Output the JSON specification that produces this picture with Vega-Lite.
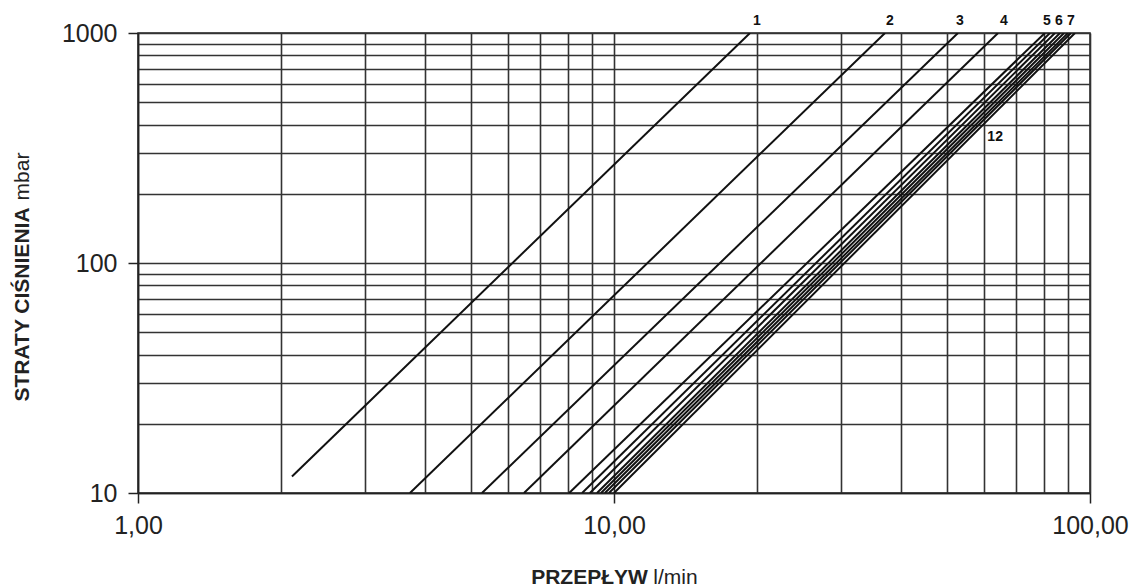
{
  "$schema": "https://vega.github.io/schema/vega-lite/v6.json",
  "width": 952,
  "height": 460,
  "autosize": {"type": "none"},
  "padding": {"left": 138, "top": 33, "right": 48, "bottom": 94},
  "background": "white",
  "config": {
    "font": "Liberation Sans",
    "view": {"stroke": "#222", "strokeWidth": 1.5}
  },
  "layer": [
    {
      "data": {
        "values": [
          {"series": "1", "flow": 2.106, "loss": 11.8},
          {"series": "1", "flow": 19.31, "loss": 1000},
          {"series": "2", "flow": 3.727, "loss": 10},
          {"series": "2", "flow": 37.1, "loss": 1000},
          {"series": "3", "flow": 5.28, "loss": 10},
          {"series": "3", "flow": 52.8, "loss": 1000},
          {"series": "4", "flow": 6.47, "loss": 10},
          {"series": "4", "flow": 64.1, "loss": 1000},
          {"series": "5", "flow": 8.05, "loss": 10},
          {"series": "5", "flow": 80.4, "loss": 1000},
          {"series": "6", "flow": 8.57, "loss": 10},
          {"series": "6", "flow": 82.4, "loss": 1000},
          {"series": "7", "flow": 8.9, "loss": 10},
          {"series": "7", "flow": 84.4, "loss": 1000},
          {"series": "8", "flow": 9.21, "loss": 10},
          {"series": "8", "flow": 86.5, "loss": 1000},
          {"series": "9", "flow": 9.39, "loss": 10},
          {"series": "9", "flow": 88.2, "loss": 1000},
          {"series": "10", "flow": 9.57, "loss": 10},
          {"series": "10", "flow": 89.9, "loss": 1000},
          {"series": "11", "flow": 9.76, "loss": 10},
          {"series": "11", "flow": 91.2, "loss": 1000},
          {"series": "12", "flow": 10.0, "loss": 10},
          {"series": "12", "flow": 93.0, "loss": 1000}
        ]
      },
      "mark": {"type": "line", "color": "#111", "strokeWidth": 2, "clip": true},
      "encoding": {
        "x": {
          "field": "flow",
          "type": "quantitative",
          "scale": {"type": "log", "domain": [1, 100], "nice": false},
          "axis": {
            "values": [1, 2, 3, 4, 5, 6, 7, 8, 9, 10, 20, 30, 40, 50, 60, 70, 80, 90, 100],
            "labelExpr": "(datum.value == 1 || datum.value == 10 || datum.value == 100) ? replace(format(datum.value, '.2f'), '.', ',') : ''",
            "labelOverlap": false,
            "labelFlush": false,
            "labelFontSize": 25,
            "labelColor": "#222",
            "labelPadding": 10,
            "tickSize": 10,
            "tickWidth": 1.5,
            "tickColor": "#222",
            "tickOpacity": {"condition": {"test": "datum.value == 1 || datum.value == 10 || datum.value == 100", "value": 1}, "value": 0},
            "grid": true,
            "gridColor": "#333",
            "gridWidth": 1.6,
            "gridOpacity": 1,
            "domainColor": "#222",
            "domainWidth": 1.5,
            "title": "PRZEPŁYW",
            "titleFontSize": 21,
            "titleFontWeight": "bold",
            "titleColor": "#222",
            "titleX": 451,
            "titleY": 84,
            "titleAlign": "center",
            "titleBaseline": "middle"
          }
        },
        "y": {
          "field": "loss",
          "type": "quantitative",
          "scale": {"type": "log", "domain": [10, 1000], "nice": false},
          "axis": {
            "values": [10, 20, 30, 40, 50, 60, 70, 80, 90, 100, 200, 300, 400, 500, 600, 700, 800, 900, 1000],
            "labelExpr": "(datum.value == 10 || datum.value == 100 || datum.value == 1000) ? format(datum.value, 'd') : ''",
            "labelOverlap": false,
            "labelFlush": false,
            "labelFontSize": 25,
            "labelColor": "#222",
            "labelPadding": 11,
            "tickSize": 10,
            "tickWidth": 1.5,
            "tickColor": "#222",
            "tickOpacity": {"condition": {"test": "datum.value == 10 || datum.value == 100 || datum.value == 1000", "value": 1}, "value": 0},
            "grid": true,
            "gridColor": "#333",
            "gridWidth": 1.6,
            "gridOpacity": 1,
            "domainColor": "#222",
            "domainWidth": 1.5,
            "title": "STRATY CIŚNIENIA",
            "titleFontSize": 21,
            "titleFontWeight": "bold",
            "titleColor": "#222",
            "titleAngle": -90,
            "titleX": -116,
            "titleY": 271,
            "titleAlign": "center",
            "titleBaseline": "middle"
          }
        },
        "detail": {"field": "series", "type": "nominal"}
      }
    },
    {
      "data": {
        "values": [
          {"label": "1", "flow": 19.97, "loss": 1127},
          {"label": "2", "flow": 38.0, "loss": 1127},
          {"label": "3", "flow": 53.3, "loss": 1127},
          {"label": "4", "flow": 65.96, "loss": 1127},
          {"label": "5", "flow": 81.2, "loss": 1127},
          {"label": "6", "flow": 86.0, "loss": 1127},
          {"label": "7", "flow": 91.2, "loss": 1127},
          {"label": "12", "flow": 63.2, "loss": 353}
        ]
      },
      "mark": {"type": "text", "font": "Liberation Sans", "fontSize": 14, "fontWeight": "bold", "color": "#111", "align": "center", "baseline": "middle"},
      "encoding": {
        "x": {
          "field": "flow",
          "type": "quantitative",
          "scale": {"type": "log", "domain": [1, 100], "nice": false},
          "axis": {
            "orient": "bottom",
            "labels": false,
            "ticks": false,
            "domain": false,
            "grid": false,
            "title": "l/min",
            "titleFontSize": 21,
            "titleFontWeight": "normal",
            "titleColor": "#222",
            "titleX": 537,
            "titleY": 84,
            "titleAlign": "center",
            "titleBaseline": "middle"
          }
        },
        "y": {
          "field": "loss",
          "type": "quantitative",
          "scale": {"type": "log", "domain": [10, 1000], "nice": false},
          "axis": {
            "orient": "left",
            "labels": false,
            "ticks": false,
            "domain": false,
            "grid": false,
            "title": "mbar",
            "titleFontSize": 21,
            "titleFontWeight": "normal",
            "titleColor": "#222",
            "titleAngle": -90,
            "titleX": -116,
            "titleY": 143,
            "titleAlign": "center",
            "titleBaseline": "middle"
          }
        },
        "text": {"field": "label", "type": "nominal"}
      }
    }
  ],
  "resolve": {
    "scale": {"x": "independent", "y": "independent"},
    "axis": {"x": "independent", "y": "independent"}
  }
}
